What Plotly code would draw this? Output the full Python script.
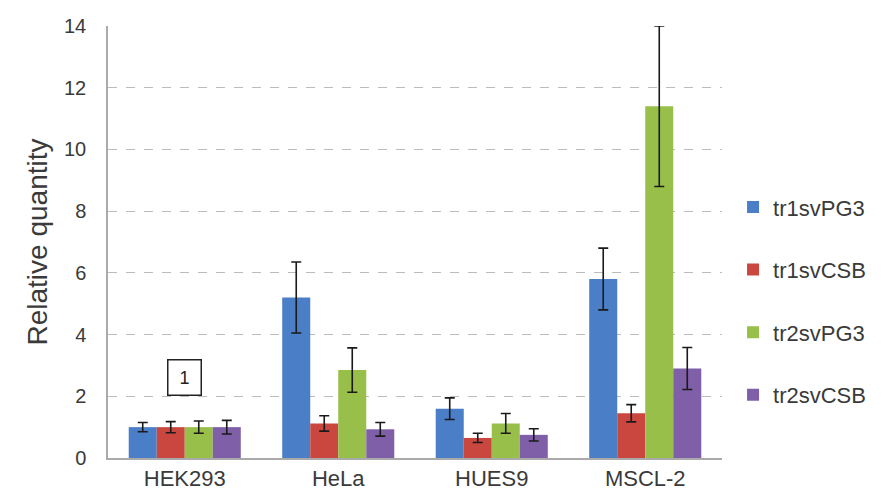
import plotly.graph_objects as go

categories = ["HEK293", "HeLa", "HUES9", "MSCL-2"]
series_names = ["tr1svPG3", "tr1svCSB", "tr2svPG3", "tr2svCSB"]
tr1svPG3 = [1.0, 5.2, 1.6, 5.8]
tr1svPG3_err = [0.15, 1.15, 0.35, 1.0]
tr1svCSB = [1.0, 1.12, 0.65, 1.45]
tr1svCSB_err = [0.18, 0.25, 0.15, 0.28]
tr2svPG3 = [1.0, 2.85, 1.12, 11.4]
tr2svPG3_err = [0.2, 0.72, 0.32, 2.6]
tr2svCSB = [1.0, 0.93, 0.75, 2.9]
tr2svCSB_err = [0.22, 0.22, 0.2, 0.68]
colors = ["#4A7EC6", "#C9473F", "#98BF4A", "#7E5FA8"]
y_ticks = [0, 2, 4, 6, 8, 10, 12, 14]

values = [tr1svPG3, tr1svCSB, tr2svPG3, tr2svCSB]
errors = [tr1svPG3_err, tr1svCSB_err, tr2svPG3_err, tr2svCSB_err]

FONT = "Liberation Sans, Arial, sans-serif"
fig = go.Figure()
for i, name in enumerate(series_names):
    fig.add_trace(go.Bar(
        x=categories, y=values[i], name=name,
        marker=dict(color=colors[i], line=dict(width=0)),
        error_y=dict(type="data", array=errors[i], visible=True,
                     color="#1a1a1a", thickness=1.6, width=5),
        legendgroup=name,
    ))

fig.update_layout(
    width=884, height=497,
    margin=dict(l=100, r=170, t=18, b=47, autoexpand=False),
    paper_bgcolor="white", plot_bgcolor="white",
    barmode="group", bargap=0.27, bargroupgap=0,
    font=dict(family=FONT, size=20, color="#3a3a3a"),
    showlegend=True,
    legend=dict(x=1.018, y=0.363, yanchor="middle", xanchor="left",
                traceorder="grouped", tracegroupgap=31,
                font=dict(size=22, color="#3a3a3a"), itemwidth=30),
    xaxis=dict(showline=True, linecolor="#aaaaaa", linewidth=1.5,
               ticks="", tickfont=dict(size=22), showgrid=False, automargin=False),
    yaxis=dict(range=[0, 14], tickvals=y_ticks, showline=True,
               linecolor="#aaaaaa", linewidth=1.5, automargin=False,
               showgrid=True, gridcolor="#bbbbbb", griddash="dash", gridwidth=1,
               zeroline=False, ticks="", tickfont=dict(size=20),
               ticklabelstandoff=16,
               title=dict(text="Relative quantity", font=dict(size=28), standoff=8)),
)

fig.add_annotation(x="HEK293", y=2.62, xref="x", yref="y", text="1",
                   showarrow=False, font=dict(size=18, color="#222222"),
                   bordercolor="#222222", borderwidth=1.5, borderpad=7,
                   bgcolor="white", width=18)

fig.write_html("out.html")
